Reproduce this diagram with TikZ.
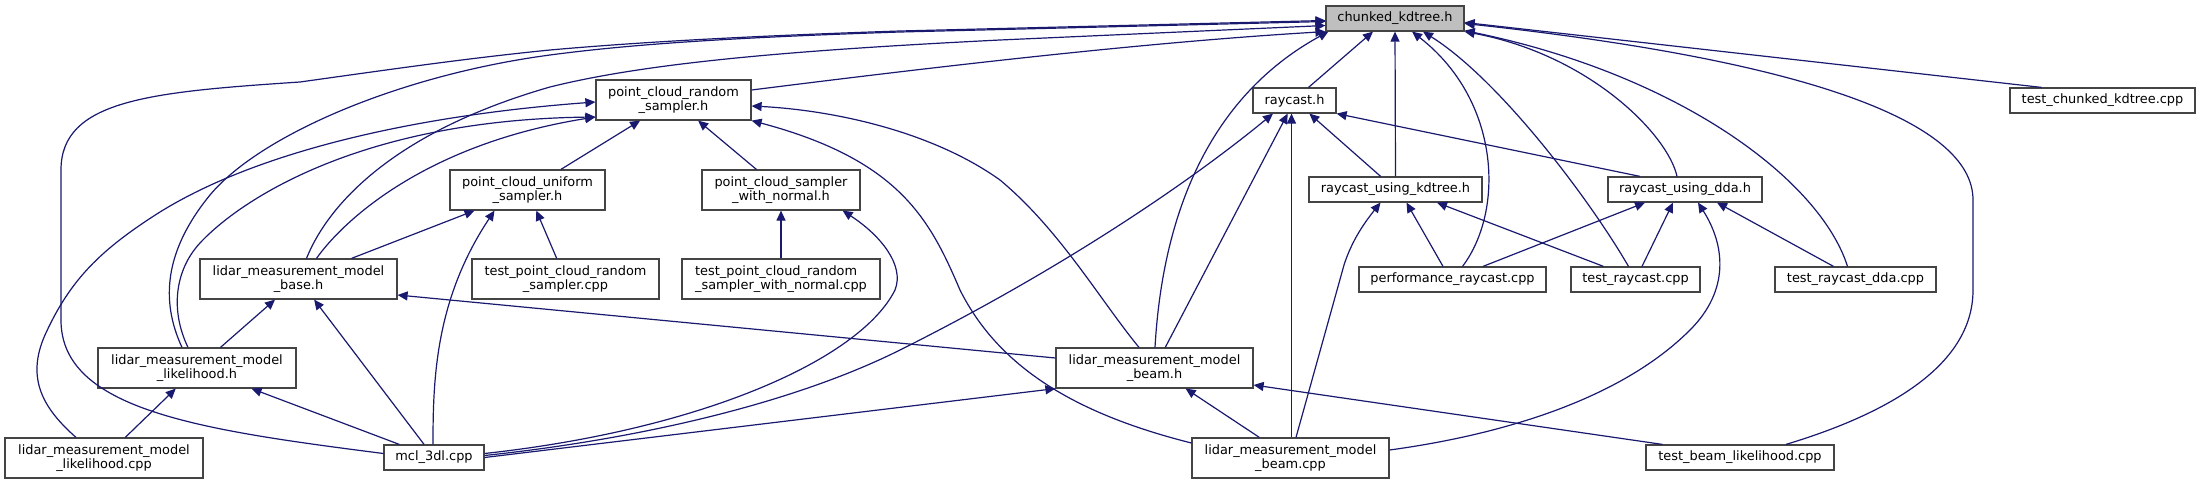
\documentclass[tikz,border=0pt]{standalone}
\usepackage{fontspec}
\setmainfont{DejaVu Sans}
\usetikzlibrary{arrows.meta,calc}
\definecolor{edgec}{HTML}{191970}
\definecolor{boxc}{HTML}{444444}
\definecolor{rootc}{HTML}{BFBFBF}
\begin{document}
\begin{tikzpicture}[x=1pt,y=-1pt,
 fbox/.style={draw=boxc, line width=1.2pt, fill=white, inner sep=0pt, align=center,
   font=\fontsize{12.9}{14.5}\selectfont, text=black},
 one/.style={minimum height=25pt},
 two/.style={minimum height=40pt},
 edge/.style={draw=edgec, line width=1.2pt, -{Triangle[length=10pt,width=9pt]}},
]
\fill[white] (0,0) rectangle (2200,484);
\useasboundingbox (0,0) rectangle (2200,484);

% nodes
\node[fbox,one,fill=rootc,minimum width=138pt] (ck) at (1395,18.5) {chunked\_kdtree.h};
\node[fbox,one,minimum width=83pt] (rc) at (1294.5,100.5) {raycast.h};
\node[fbox,one,minimum width=173pt] (rk) at (1395.5,189.5) {raycast\_using\_kdtree.h};
\node[fbox,one,minimum width=154pt] (rd) at (1685,189.5) {raycast\_using\_dda.h};
\node[fbox,one,minimum width=185pt] (tck) at (2102.5,100.5) {test\_chunked\_kdtree.cpp};
\node[fbox,one,minimum width=187pt] (pr) at (1452.5,279.5) {performance\_raycast.cpp};
\node[fbox,one,minimum width=129pt] (tr) at (1635.5,279.5) {test\_raycast.cpp};
\node[fbox,one,minimum width=161pt] (trd) at (1855.5,279.5) {test\_raycast\_dda.cpp};
\node[fbox,one,minimum width=188pt] (tbl) at (1740,457.5) {test\_beam\_likelihood.cpp};
\node[fbox,two,minimum width=197pt] (bc) at (1290.5,458) {lidar\_measurement\_model\\\_beam.cpp};
\node[fbox,two,minimum width=197pt] (bh) at (1154.5,368) {lidar\_measurement\_model\\\_beam.h};
\node[fbox,two,minimum width=155pt] (rs) at (673.5,100) {point\_cloud\_random\\\_sampler.h};
\node[fbox,two,minimum width=158pt] (wn) at (781,190) {point\_cloud\_sampler\\\_with\_normal.h};
\node[fbox,two,minimum width=155pt] (us) at (527.5,190) {point\_cloud\_uniform\\\_sampler.h};
\node[fbox,two,minimum width=198pt,align=left] (twn) at (781,279) {test\_point\_cloud\_random\\\_sampler\_with\_normal.cpp};
\node[fbox,two,minimum width=187pt] (trs) at (565.5,279) {test\_point\_cloud\_random\\\_sampler.cpp};
\node[fbox,two,minimum width=197pt] (bs) at (298.5,279) {lidar\_measurement\_model\\\_base.h};
\node[fbox,two,minimum width=198pt] (lh) at (197,368) {lidar\_measurement\_model\\\_likelihood.h};
\node[fbox,two,minimum width=198pt] (lc) at (104,458) {lidar\_measurement\_model\\\_likelihood.cpp};
\node[fbox,one,minimum width=100pt] (mc) at (434,457.5) {mcl\_3dl.cpp};

% edges into chunked_kdtree.h
\draw[edge] ($(rc.north)+(14,0)$) -- ($(ck.south)+(-22,0)$);
\draw[edge] (rk.north) -- (ck.south);
\draw[edge] ($(rd.north)+(-8,0)$) .. controls (1668,135) and (1590,55) .. (ck.south east);
\draw[edge] ($(trd.north)+(-8,0)$) .. controls (1820,180) and (1680,75) .. ($(ck.south east)+(0,-1)$);
\draw[edge] ($(tbl.north)+(46,0)$) .. controls (1900,410) and (1973,360) .. (1973,290) -- (1973,200) .. controls (1973,120) and (1800,60) .. ($(ck.east)+(0,5)$);
\draw[edge] ($(tck.north)+(-61,0)$) -- ($(ck.east)+(0,4)$);
\draw[edge] ($(pr.north)+(10,0)$) .. controls (1505,210) and (1500,100) .. ($(ck.south)+(17,0)$);
\draw[edge] ($(tr.north)+(-7,0)$) .. controls (1590,200) and (1500,80) .. ($(ck.south)+(28,0)$);
\draw[edge] ($(mc.west)+(0,-4)$) .. controls (200,430) and (61,410) .. (61,320) -- (61,170)
  .. controls (61,100) and (150,92) .. (300,82) .. controls (400,68) and (470,58) .. (550,50)
  .. controls (640,42) and (750,36) .. (900,31) -- ($(ck.west)+(0,2)$);
\draw[edge] ($(lh.north)+(-15,0)$) .. controls (160,300) and (165,250) .. (210,195)
  .. controls (260,135) and (400,75) .. (550,55) .. controls (640,43) and (750,37) .. (900,32) -- ($(ck.west)+(0,3)$);
\draw[edge] ($(bs.north)+(8,0)$) .. controls (330,200) and (400,130) .. (550,87)
  .. controls (650,62) and (800,50) .. (1000,40) -- ($(ck.west)+(0,7)$);
\draw[edge] ($(rs.east)+(0,-10)$) .. controls (950,65) and (1150,42) .. (ck.south west);
\draw[edge] ($(bh.north)+(0.5,0)$) .. controls (1160,260) and (1185,110) .. ($(ck.south west)+(3,0)$);

% edges into point_cloud_random_sampler.h
\draw[edge] ($(lc.north)+(-28,0)$) .. controls (45,410) and (25,380) .. (45,335)
  .. controls (70,280) and (100,250) .. (160,212) .. controls (260,150) and (420,115) .. ($(rs.west)+(0,2)$);
\draw[edge] ($(lh.north)+(-9,0)$) .. controls (170,310) and (175,270) .. (200,243)
  .. controls (240,200) and (360,120) .. ($(rs.west)+(0,17)$);
\draw[edge] ($(bs.north)+(18,0)$) .. controls (340,225) and (420,145) .. ($(rs.west)+(0,17)$);
\draw[edge] (us) -- (rs);
\draw[edge] (wn) -- (rs);
\draw[edge] ($(bh.north)+(-15.5,0)$) .. controls (1100,300) and (1060,230) .. (1000,180)
  .. controls (930,130) and (830,110) .. ($(rs.east)+(0,6)$);
\draw[edge] ($(bc.west)+(0,-15)$) .. controls (1080,415) and (1000,370) .. (960,290)
  .. controls (930,220) and (900,160) .. (rs.south east);

% uniform / normal samplers
\draw[edge] (bs) -- (us);
\draw[edge] ($(mc.north)+(-1,0)$) .. controls (433,380) and (435,300) .. ($(us.south)+(-33,0)$);
\draw[edge] (trs) -- (us);
\draw[edge] (twn) -- (wn);
\draw[edge] ($(mc.east)+(0,-4)$) .. controls (700,430) and (860,360) .. (895,290)
  .. controls (905,265) and (880,235) .. ($(wn.south east)+(-18,0)$);

% raycast.h
\draw[edge] ($(mc.east)+(0,-2)$) .. controls (650,438) and (800,400) .. (900,350)
  .. controls (1050,275) and (1180,190) .. ($(rc.south)+(-21.5,0)$);
\draw[edge] (bh) -- (rc);
\draw[edge] ($(bc.north)+(1,0)$) -- ($(rc.south)+(-3,0)$);
\draw[edge] (rk) -- (rc);
\draw[edge] ($(rd.north)+(-45,0)$) -- (rc.south east);

% raycast_using_kdtree.h / dda.h
\draw[edge] ($(bc.north)+(5.5,0)$) -- (1344,265) .. controls (1352,240) and (1365,222) .. ($(rk.south)+(-15,0)$);
\draw[edge] ($(pr.north)+(-9.5,0)$) -- ($(rk.south)+(11,0)$);
\draw[edge] ($(tr.north)+(-32,0)$) -- ($(rk.south)+(41.5,0)$);
\draw[edge] ($(pr.north)+(30.5,0)$) -- ($(rd.south)+(-40,0)$);
\draw[edge] ($(tr.north)+(6.5,0)$) -- ($(rd.south)+(-12,0)$);
\draw[edge] ($(trd.north)+(-22,0)$) -- ($(rd.south)+(32,0)$);
\draw[edge] ($(bc.east)+(0,-8)$) .. controls (1500,435) and (1620,400) .. (1690,330)
  .. controls (1730,290) and (1725,245) .. ($(rd.south)+(13,0)$);

% beam.h
\draw[edge] (mc.east) -- (bh.south west);
\draw[edge] (bc) -- (bh);
\draw[edge] ($(tbl.north west)+(17,0)$) -- ($(bh.east)+(0,17)$);

% base.h / likelihood.h
\draw[edge] ($(bh.west)+(0,-10)$) -- ($(bs.east)+(0,16)$);
\draw[edge] (lh) -- (bs);
\draw[edge] (mc) -- (bs);
\draw[edge] (lc) -- (lh);
\draw[edge] (mc) -- (lh);
\end{tikzpicture}
\end{document}
